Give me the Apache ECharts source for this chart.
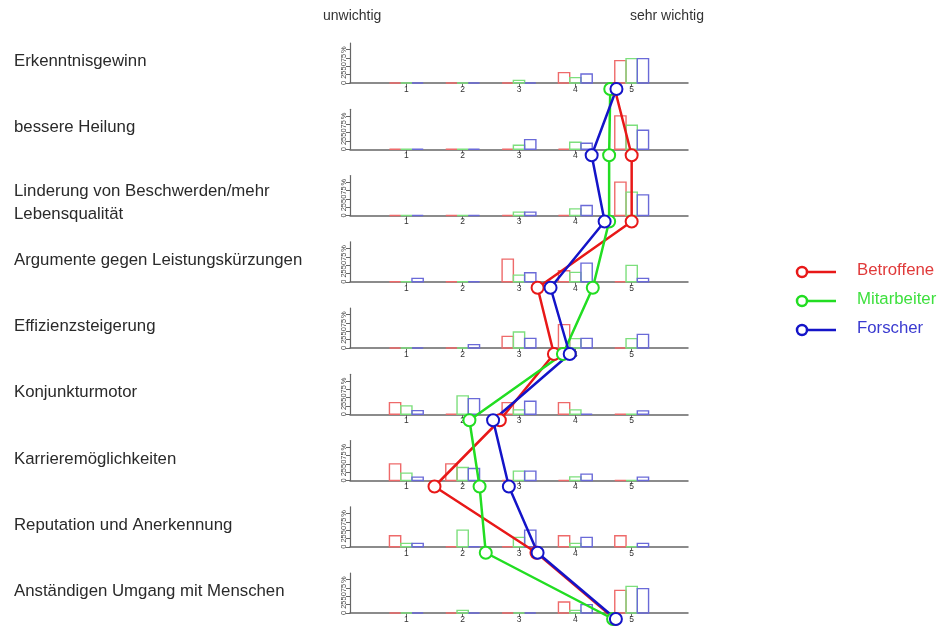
<!DOCTYPE html>
<html><head><meta charset="utf-8">
<script src="https://cdn.jsdelivr.net/npm/echarts@6/dist/echarts.min.js"></script>
<style>html,body{margin:0;padding:0;background:#fff}#c{width:940px;height:630px}</style>
</head><body><div id="c"></div><script>
const items = ['Erkenntnisgewinn','bessere Heilung','Linderung von Beschwerden/mehr\nLebensqualität','Argumente gegen Leistungskürzungen','Effizienzsteigerung','Konjunkturmotor','Karrieremöglichkeiten','Reputation und Anerkennung','Anständigen Umgang mit Menschen'];
const ratings = [1,2,3,4,5];
const groups = ['Betroffene','Mitarbeiter','Forscher'];
const xTicks = [1,2,3,4,5];
const yTicks = [0,25,50,75,100];
const scaleLow = 'unwichtig';
const scaleHigh = 'sehr wichtig';

// percentage distribution per item (ratings 1..5)
const pctBetroffene = [
  [0,0,0,31,67],[0,0,0,0,100],[0,0,0,0,100],[0,0,68,33,0],[0,0,35,70,0],
  [35,0,35,35,0],[50,50,0,0,0],[33,0,0,33,33],[0,0,0,33,68]];
const pctMitarbeiter = [
  [0,0,8,16,73],[0,0,12,21,72],[0,0,10,20,70],[0,0,20,28,49],[0,0,48,28,28],
  [25,55,13,13,0],[22,39,28,11,0],[10,50,28,10,0],[0,8,0,8,80]];
const pctForscher = [
  [0,0,0,27,73],[0,0,29,18,57],[0,0,10,30,62],[10,0,27,56,10],[0,10,29,29,41],
  [11,47,39,0,10],[10,36,28,19,10],[10,0,50,28,10],[0,0,0,25,73]];

// mean ratings per item
const meanBetroffene = [4.70,5.00,5.00,3.33,3.62,2.66,1.50,3.31,4.70];
const meanMitarbeiter = [4.62,4.60,4.60,4.31,3.78,2.12,2.30,2.41,4.67];
const meanForscher = [4.73,4.29,4.52,3.56,3.90,2.54,2.82,3.33,4.72];

const lineColors = ['#e81818','#22dd22','#1414c8'];
const barColors = ['#ee6a6a','#7ddf7d','#6a6ad8'];
const textColors = ['#e03a3a','#3ee03e','#3a3ad0'];
const pcts = [pctBetroffene, pctMitarbeiter, pctForscher];
const means = [meanBetroffene, meanMitarbeiter, meanForscher];
const offsets = [-0.2, 0, 0.2];

const GL = 350, GW = 338, B0 = 83, STEP = 66.25, GH = 40;
const grid = [], xAxis = [], yAxis = [], series = [], graphic = [];
const axisCol = '#666';
const FONT = '"Liberation Sans", Arial, sans-serif';

items.forEach((name, i) => {
  const base = B0 + STEP * i;
  grid.push({left: GL, width: GW, top: base - GH, height: GH});
  xAxis.push({type:'value', gridIndex:i, min:0, max:6, interval:1,
    axisLine:{show:true, lineStyle:{color:axisCol, width:1.5}},
    axisTick:{show:true, length:4, customValues:xTicks, lineStyle:{color:axisCol}},
    axisLabel:{show:true, customValues:xTicks, fontSize:8.5, margin:2, color:'#333', fontFamily:'Liberation Sans'},
    splitLine:{show:false}});
  yAxis.push({type:'value', gridIndex:i, min:0, max:120, interval:25,
    axisLine:{show:true, lineStyle:{color:axisCol, width:1.2}},
    axisTick:{show:true, length:4, customValues:yTicks, lineStyle:{color:axisCol}},
    axisLabel:{show:true, customValues:yTicks, fontSize:7.5, margin:2, rotate:90, color:'#444',
      fontFamily:'Liberation Sans', formatter: v => v === 100 ? '%' : String(v)},
    splitLine:{show:false}});
  pcts.forEach((arr, g) => {
    series.push({type:'custom', xAxisIndex:i, yAxisIndex:i, silent:true, z:2,
      data: ratings.map((r,k) => [r, arr[i][k]]),
      renderItem: (params, api) => {
        const x = api.value(0), v = api.value(1);
        const p0 = api.coord([x + offsets[g] - 0.1, v]);
        const p1 = api.coord([x + offsets[g] + 0.1, 0]);
        return {type:'rect', shape:{x:p0[0], y:p0[1], width:p1[0]-p0[0], height:p1[1]-p0[1]},
          style:{fill:'none', stroke:barColors[g], lineWidth:1.4}};
      }});
  });
  const lines = name.split('\n');
  lines.forEach((ln, k) => {
    const cy = lines.length > 1 ? (base - 23 + k * 23) : (base - 20);
    graphic.push({type:'text', left:14, top:cy - 10,
      style:{text:ln, fill:'#2a2a2a', font:'16.8px ' + FONT}});
  });
});

// overlay grid for means
const oi = items.length;
grid.push({left: GL, width: GW, top: B0 + 6, height: STEP * (items.length - 1)});
xAxis.push({type:'value', gridIndex:oi, min:0, max:6, show:false});
yAxis.push({type:'value', gridIndex:oi, min:0, max:items.length - 1, inverse:true, show:false});
means.forEach((arr, g) => {
  series.push({type:'line', name:groups[g], xAxisIndex:oi, yAxisIndex:oi, z:10,
    data: arr.map((m, i) => [m, i]),
    symbol:'emptyCircle', symbolSize:12, showSymbol:true,
    lineStyle:{color:lineColors[g], width:2.5},
    itemStyle:{color:lineColors[g], borderColor:lineColors[g], borderWidth:2.5},
    animation:false});
});

graphic.push({type:'text', left:323, top:9, style:{text:scaleLow, fill:'#333', font:'14px ' + FONT}});
graphic.push({type:'text', left:630, top:9, style:{text:scaleHigh, fill:'#333', font:'14px ' + FONT}});

const legY = [272, 301, 330];
groups.forEach((gname, g) => {
  graphic.push({type:'line', shape:{x1:802, y1:legY[g], x2:836, y2:legY[g]}, style:{stroke:lineColors[g], lineWidth:2.5}});
  graphic.push({type:'circle', shape:{cx:802, cy:legY[g], r:5}, style:{fill:'#fff', stroke:lineColors[g], lineWidth:2.5}});
  graphic.push({type:'text', left:857, top:legY[g] - 10, style:{text:gname, fill:textColors[g], font:'16.8px ' + FONT}});
});

const chart = echarts.init(document.getElementById('c'));
chart.setOption({animation:false, backgroundColor:'#fff', grid, xAxis, yAxis, series, graphic});
</script></body></html>
